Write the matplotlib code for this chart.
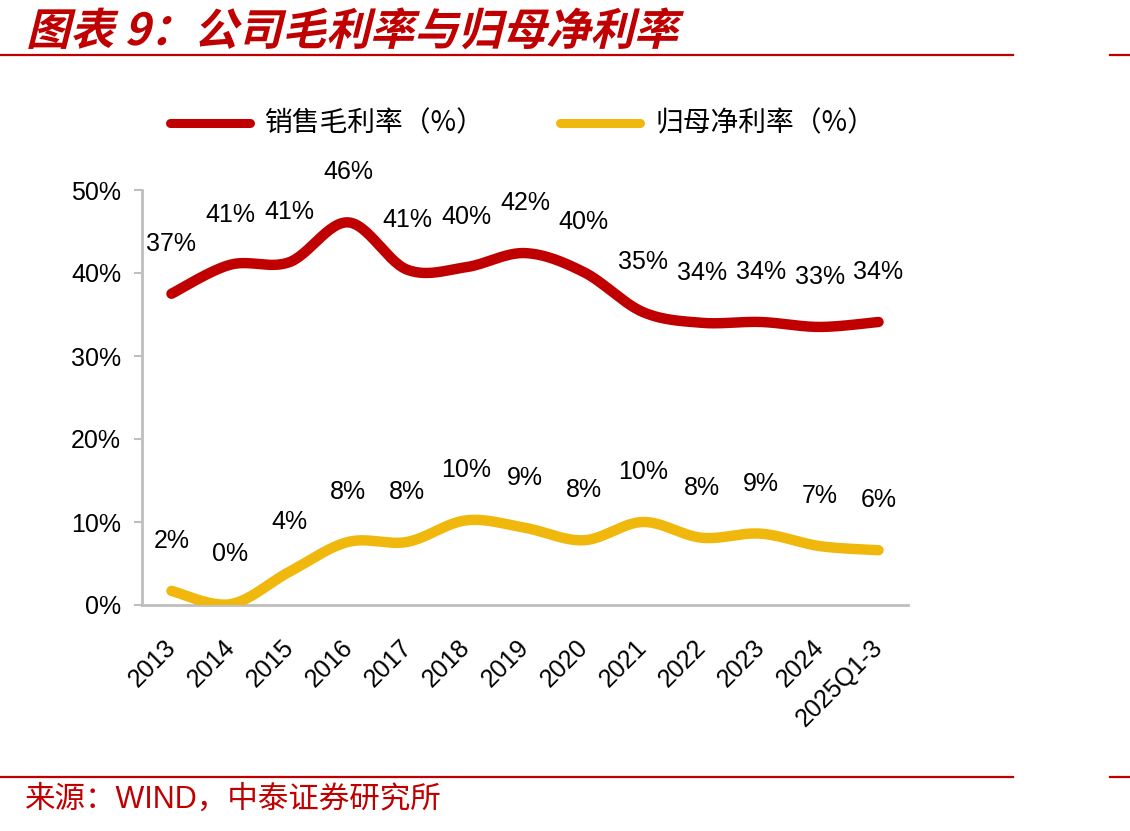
import matplotlib.pyplot as plt, numpy as np
from matplotlib.lines import Line2D
from matplotlib.textpath import TextPath
from matplotlib.patches import PathPatch
from matplotlib.font_manager import FontProperties
from matplotlib.transforms import Affine2D, IdentityTransform

plt.rcParams['font.family'] = ['Liberation Sans', 'Noto Sans CJK SC', 'DejaVu Sans']

years = ["2013", "2014", "2015", "2016", "2017", "2018", "2019", "2020", "2021", "2022", "2023", "2024", "2025Q1-3"]
gross_margin = [37.5, 41.0, 41.3, 46.1, 40.4, 40.7, 42.4, 40.1, 35.3, 34.0, 34.1, 33.5, 34.1]
net_margin = [1.7, 0.1, 4.0, 7.6, 7.6, 10.2, 9.3, 7.8, 10.0, 8.1, 8.6, 7.1, 6.6]
gross_labels = ["37%", "41%", "41%", "46%", "41%", "40%", "42%", "40%", "35%", "34%", "34%", "33%", "34%"]
net_labels = ["2%", "0%", "4%", "8%", "8%", "10%", "9%", "8%", "10%", "8%", "9%", "7%", "6%"]

RED = "#C00000"; YEL = "#F0B80C"; GRAY = "#BFBFBF"


def smooth(x, y, n=30):
    # Excel-style smoothed line (cubic Bezier through points)
    x = np.asarray(x, float); y = np.asarray(y, float)
    xs, ys = [], []
    for i in range(len(x) - 1):
        p0 = np.array([x[max(i-1, 0)], y[max(i-1, 0)]])
        p1 = np.array([x[i], y[i]]); p2 = np.array([x[i+1], y[i+1]])
        p3 = np.array([x[min(i+2, len(x)-1)], y[min(i+2, len(x)-1)]])
        c1 = p1 + (p2 - p0) / 6; c2 = p2 - (p3 - p1) / 6
        t = np.linspace(0, 1, n)[:, None]
        b = (1-t)**3*p1 + 3*(1-t)**2*t*c1 + 3*(1-t)*t**2*c2 + t**3*p2
        xs.extend(b[:, 0]); ys.extend(b[:, 1])
    return xs, ys


W, H = 1130, 831
fig = plt.figure(figsize=(W/100, H/100), dpi=100)
ax = fig.add_axes([142/W, 1-605/H, (908-142)/W, (605-190)/H])
x = np.arange(len(years))
for vals, labs, col in [(gross_margin, gross_labels, RED), (net_margin, net_labels, YEL)]:
    sx, sy = smooth(x, vals)
    ax.plot(sx, sy, color=col, lw=7.5, solid_capstyle="round", zorder=3)
    for xi, v, lab in zip(x, vals, labs):
        ax.annotate(lab, (xi, v), xytext=(0, 36), textcoords="offset points",
                    ha="center", va="center", fontsize=18, color="black")

ax.set_xlim(-0.5, len(years) - 0.5); ax.set_ylim(0, 50)
ax.set_yticks(range(0, 51, 10))
ax.set_yticklabels([f"{v}%" for v in range(0, 51, 10)], fontsize=18)
ax.set_xticks(x)
ax.set_xticklabels(years, rotation=45, ha="right", rotation_mode="anchor", fontsize=18)
ax.tick_params(axis="x", length=0, pad=22)
ax.tick_params(axis="y", length=6, color=GRAY, width=1.5, pad=9)
for lab in ax.get_xticklabels():
    lab.set_x(lab.get_position()[0])
# nudge x labels slightly left like the reference
from matplotlib.transforms import ScaledTranslation
for lab in ax.get_xticklabels():
    lab.set_transform(lab.get_transform() + ScaledTranslation(-0.08, 0, fig.dpi_scale_trans))
for s in ["top", "right"]:
    ax.spines[s].set_visible(False)
for s in ["left", "bottom"]:
    ax.spines[s].set_color(GRAY); ax.spines[s].set_linewidth(2)

# legend
for lx, col, txt in [(170, RED, "销售毛利率（%）"), (560, YEL, "归母净利率（%）")]:
    fig.add_artist(Line2D([lx/W, (lx+80)/W], [1-123/H]*2, color=col, lw=6.5, solid_capstyle="round"))
    fig.text((lx+95)/W, 1-123/H, txt, fontsize=20, va="center", family=["Noto Sans CJK SC"])

# title drawn as a skewed path to imitate italic
tp = TextPath((0, 0), "图表 9：公司毛利率与归母净利率", size=44,
              prop=FontProperties(family="Noto Sans CJK SC", weight="bold"))
tr = Affine2D().skew_deg(14, 0).translate(26, H-45) + IdentityTransform()
fig.add_artist(PathPatch(tp, transform=tr, color=RED, lw=0))

for yy in [55, 777]:
    fig.add_artist(Line2D([0, 1013/W], [1-yy/H]*2, color=RED, lw=1.6))
    fig.add_artist(Line2D([1110/W, 1], [1-yy/H]*2, color=RED, lw=1.6))
fig.text(25/W, 1-800/H, "来源：WIND，中泰证券研究所", fontsize=22, color=RED, va="center",
         family=["Liberation Sans", "Noto Sans CJK SC"])

fig.savefig("out.png", dpi=100)
